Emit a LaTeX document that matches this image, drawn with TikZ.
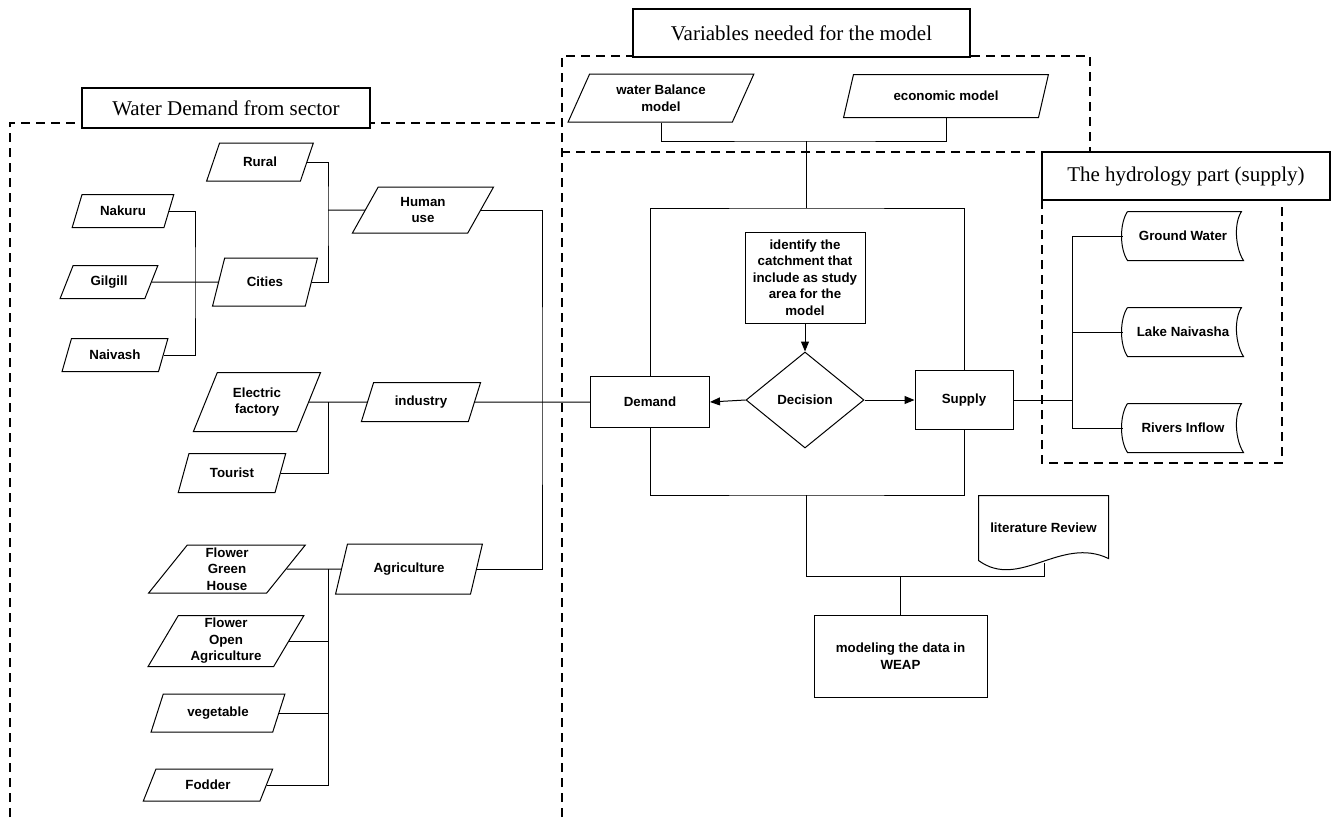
\documentclass[tikz,border=0pt]{standalone}
\usepackage{fontspec}
\usetikzlibrary{shapes.geometric,arrows.meta}
\newfontfamily\labfont{Liberation Sans}
\newfontfamily\headfont{Liberation Serif}
\newcommand{\labf}{\labfont\bfseries\fontsize{13.3}{16.5}\selectfont}
\newcommand{\headf}{\headfont\fontsize{21}{25}\selectfont}
% stored data outline round a node
\newcommand{\storeshape}[1]{\draw ([xshift=5pt]#1.north west) -- ([xshift=-2pt]#1.north east) .. controls +(-8,12) and +(-8,-12) .. (#1.south east) -- ([xshift=5pt]#1.south west) .. controls +(-8,-12) and +(-8,12) .. ([xshift=5pt]#1.north west);}
\begin{document}
\begin{tikzpicture}[x=1pt,y=-1pt,line width=1pt,
    para/.style={draw,trapezium,trapezium left angle=64,trapezium right angle=116,trapezium stretches=true,inner sep=1pt,align=center,font=\labf},
    box/.style={draw,rectangle,inner sep=2pt,align=center,font=\labf},
    store/.style={inner sep=0pt,minimum width=120,minimum height=48,font=\labf},
    title/.style={draw,fill=white,line width=1.6pt,inner sep=0pt,font=\headf},
    sector/.style={dash pattern=on 9pt off 6pt,line width=1.5pt},
    arr/.style={-{Triangle[length=10pt,width=8pt]}}]
\useasboundingbox (0,0) rectangle (1339,817);

% dashed frames
\draw[sector] (10,817) -- (10,123) -- (562,123);
\draw[sector] (562,817) -- (562,56) -- (1090,56) -- (1090,152) -- (562,152);
\draw[sector] (1042,200) -- (1042,463) -- (1282,463) -- (1282,200);

\node[title,minimum width=288,minimum height=40] (tdemand) at (226,108) {Water Demand from sector};
\node[title,minimum width=337,minimum height=48] (tvars) at (801.5,33) {Variables needed for the model};
\node[title,minimum width=288,minimum height=48] (thydro) at (1186,176) {The hydrology part (supply)};

% demand side
\node[para,minimum width=107,minimum height=38] (rural) at (260,162) {Rural};
\node[para,minimum width=102,minimum height=33] (nakuru) at (123,211) {Nakuru};
\node[para,minimum width=98,minimum height=33] (gilgill) at (109,282) {Gilgill};
\node[para,minimum width=106,minimum height=33] (naivash) at (115,355) {Naivash};
\node[para,minimum width=105,minimum height=48] (cities) at (265,282) {Cities};
\node[para,minimum width=142,minimum height=46] (human) at (423,210) {Human\\use};
\node[para,minimum width=128,minimum height=59] (electric) at (257,402) {Electric\\factory};
\node[para,minimum width=120,minimum height=39] (industry) at (421,402) {industry};
\node[para,minimum width=108,minimum height=39] (tourist) at (232,473) {Tourist};
\node[para,minimum width=158,minimum height=48] (fgh) at (227,569) {Flower\\Green\\House};
\node[para,minimum width=148,minimum height=50] (agri) at (409,569) {Agriculture};
\node[para,minimum width=156,minimum height=51] (foa) at (226,641) {Flower\\Open\\Agriculture};
\node[para,minimum width=134,minimum height=38] (veg) at (218,713) {vegetable};
\node[para,minimum width=130,minimum height=32] (fodder) at (208,785) {Fodder};

\coordinate (cbus) at (195,282);
\coordinate (hbus) at (328,210);
\coordinate (ibus) at (328,402);
\coordinate (abus) at (328,569);
\coordinate (dbus) at (542,402);

\draw (nakuru.east) -| (cbus) |- (naivash.east);
\draw (gilgill.east) -- (cities.west);
\draw (rural.east) -| (hbus) |- (cities.east);
\draw (hbus) -- (human.west);
\draw (electric.east) -- (industry.west);
\draw (ibus) |- (tourist.east);
\draw (fgh.east) -- (agri.west);
\draw (abus) |- (fodder.east);
\draw (foa.east) -- (foa.east -| abus);
\draw (veg.east) -- (veg.east -| abus);
\draw (human.east) -| (dbus) |- (agri.east);

% model variables
\node[para,minimum width=186,minimum height=48] (wbm) at (661,98) {water Balance\\model};
\node[para,minimum width=205,minimum height=43] (econ) at (946,96) {economic model};

% centre
\node[box,minimum width=120,minimum height=91] (identify) at (805,277.5) {identify the\\catchment that\\include as study\\area for the\\model};
\node[draw,diamond,minimum width=118,minimum height=96,inner sep=0pt,font=\labf] (decision) at (805,400) {Decision};
\node[box,minimum width=119,minimum height=51] (demand) at (650,402) {Demand};
\node[box,minimum width=98,minimum height=59] (supply) at (964,400) {Supply};
\node[box,minimum width=173,minimum height=82] (model) at (900.5,656) {modeling the data in\\WEAP};
\node[inner sep=0pt,minimum width=129,minimum height=74,font=\labf] (lit) at (1043.5,533) {\raisebox{11pt}{literature Review}};
\draw ([yshift=10pt]lit.south west) -- (lit.north west) -- (lit.north east) -- ([yshift=12pt]lit.south east) .. controls +(-48,-23) and +(41,30) .. ([yshift=10pt]lit.south west);

\coordinate (vtop) at (806,141);
\coordinate (btop) at (806,208);
\coordinate (bbot) at (806,495);
\coordinate (mbus) at (806,576);
\coordinate (litb) at (1044,563);

\draw (wbm.south) |- (vtop) -| (econ.south);
\draw (vtop) -- (btop);
\draw (demand.north) |- (btop) -| (supply.north);
\draw[arr] (identify) -- (decision);
\draw[arr] (decision.west) -- (demand.east);
\draw[arr] (decision.east) -- (supply.west);
\draw (industry.east) -- (demand.west);
\draw (demand.south) |- (bbot) -| (supply.south);
\draw (bbot) -- (mbus) -| (litb);
\draw (model.north) -- (model.north |- mbus);

% hydrology
\node[store] (gw) at (1183,236) {Ground Water};
\node[store] (lake) at (1183,332) {Lake Naivasha};
\node[store] (rivers) at (1183,428) {Rivers Inflow};
\storeshape{gw}
\storeshape{lake}
\storeshape{rivers}

\coordinate (sbus) at (1072,400);
\draw (supply.east) -- (sbus);
\draw (gw.west) -| (sbus) |- (rivers.west);
\draw (lake.west) -- (lake.west -| sbus);
\end{tikzpicture}
\end{document}
